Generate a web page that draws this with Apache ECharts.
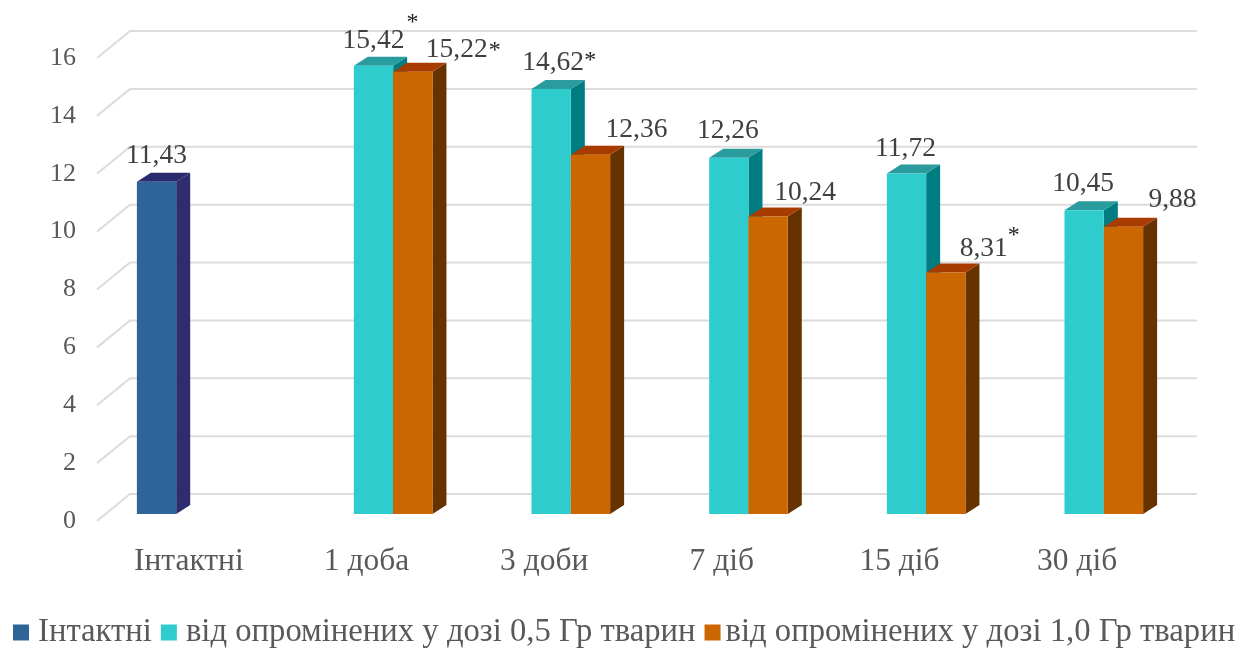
<!DOCTYPE html>
<html>
<head>
<meta charset="utf-8">
<script src="https://cdn.jsdelivr.net/npm/echarts@6/dist/echarts.min.js"></script>
<style>html,body{margin:0;padding:0;background:#fff}#c{width:1243px;height:650px}</style>
</head>
<body>
<div id="c"></div>
<script>
const categories = ['Інтактні', '1 доба', '3 доби', '7 діб', '15 діб', '30 діб'];
const intact = [11.43, null, null, null, null, null];
const dose05 = [null, 15.42, 14.62, 12.26, 11.72, 10.45];
const dose10 = [null, 15.22, 12.36, 10.24, 8.31, 9.88];
const yTicks = [0, 2, 4, 6, 8, 10, 12, 14, 16];

const SERIF = '"Liberation Serif", "Times New Roman", serif';

// Extruded bar faces per series
const faces = {
  intact: { front: '#2f6498', side: '#2e2d70', top: '#2b2a6e', slot: 0 },
  dose05: { front: '#2fcccd', side: '#007d83', top: '#2a9c9e', slot: 1 },
  dose10: { front: '#cc6600', side: '#663300', top: '#a83c00', slot: 2 }
};
const DEPTH_X = 14, DEPTH_Y = -9;
const SLOT_SHARE = 0.2212;

// Label placement relative to the bar's front top edge: [dx, dy], star [dx, dy] from label centre
const labelPlace = {
  'intact:0': { at: [0, -26] },
  'dose05:1': { at: [0, -25], star: [39, -18] },
  'dose10:1': { at: [44, -22], star: [38, 1] },
  'dose05:2': { at: [2, -26], star: [37, -2] },
  'dose10:2': { at: [46, -25] },
  'dose05:3': { at: [-1, -27] },
  'dose10:3': { at: [37, -24] },
  'dose05:4': { at: [-1, -25] },
  'dose10:4': { at: [38, -24], star: [30, -13] },
  'dose05:5': { at: [-1, -27] },
  'dose10:5': { at: [49, -27] }
};

function barSeries(name, key, values) {
  const f = faces[key];
  return {
    type: 'custom',
    name: name,
    xAxisIndex: 0,
    yAxisIndex: 0,
    itemStyle: { color: f.front },
    encode: { x: 0, y: 1 },
    data: values.map((v, i) => [i, v]).filter(d => d[1] !== null),
    renderItem(params, api) {
      const idx = api.value(0), val = api.value(1);
      const top = api.coord([idx, val]);
      const base = api.coord([idx, 0]);
      const w = api.size([1, 0])[0] * SLOT_SHARE;
      const x0 = top[0] - w * 1.5 + f.slot * w;
      const x1 = x0 + w;
      const children = [
        { type: 'polygon', shape: { points: [[x1, top[1]], [x1 + DEPTH_X, top[1] + DEPTH_Y], [x1 + DEPTH_X, base[1] + DEPTH_Y], [x1, base[1]]] }, style: { fill: f.side } },
        { type: 'polygon', shape: { points: [[x0, top[1]], [x0 + DEPTH_X, top[1] + DEPTH_Y], [x1 + DEPTH_X, top[1] + DEPTH_Y], [x1, top[1]]] }, style: { fill: f.top } },
        { type: 'rect', shape: { x: x0, y: top[1], width: w, height: base[1] - top[1] }, style: { fill: f.front } }
      ];
      const place = labelPlace[key + ':' + idx];
      const lx = (x0 + x1) / 2 + place.at[0], ly = top[1] + place.at[1];
      children.push({
        type: 'text', z2: 10,
        style: { x: lx, y: ly, text: val.toFixed(2).replace('.', ','), fill: '#404040', font: '27.5px ' + SERIF, align: 'center', verticalAlign: 'middle' }
      });
      if (place.star) {
        children.push({
          type: 'text', z2: 10,
          style: { x: lx + place.star[0], y: ly + place.star[1], text: '*', fill: '#222', font: '24px ' + SERIF, align: 'center', verticalAlign: 'middle' }
        });
      }
      return { type: 'group', children };
    }
  };
}

// Floor-to-wall gridlines: a slanted run from the front edge, then along the back wall
const gridSeries = {
  type: 'custom',
  xAxisIndex: 1,
  yAxisIndex: 1,
  silent: true,
  encode: { x: 0, y: 1 },
  data: yTicks.map(v => [0, v]),
  renderItem(params, api) {
    const y = api.coord([0, api.value(1)])[1];
    const cs = params.coordSys;
    const fx = cs.x - 3, bx = cs.x + 30, by = y - 27;
    return {
      type: 'polyline',
      shape: { points: [[fx, y], [bx, by], [bx + cs.width + 1, by]] },
      style: { stroke: '#dcdcdc', lineWidth: 2, fill: 'none' }
    };
  }
};

const chart = echarts.init(document.getElementById('c'), null, { renderer: 'canvas' });
chart.setOption({
  animation: false,
  backgroundColor: '#ffffff',
  grid: [
    { left: 107, width: 1066, top: 49, height: 465 },
    { left: 100, width: 1066, top: 58, height: 463 }
  ],
  xAxis: [
    { type: 'category', gridIndex: 0, data: categories, show: false },
    {
      type: 'category', gridIndex: 1, data: categories,
      axisLine: { show: false }, axisTick: { show: false },
      axisLabel: { color: '#595959', fontFamily: SERIF, fontSize: 31.5, margin: 25 }
    }
  ],
  yAxis: [
    { type: 'value', gridIndex: 0, min: 0, max: 16, interval: 2, show: false },
    {
      type: 'value', gridIndex: 1, min: 0, max: 16, interval: 2,
      axisLine: { show: false }, axisTick: { show: false }, splitLine: { show: false },
      axisLabel: { color: '#595959', fontFamily: SERIF, fontSize: 26, margin: 24, padding: [4, 0, 0, 0] }
    }
  ],
  legend: {
    data: [
      'Інтактні',
      'від опромінених у дозі 0,5 Гр тварин',
      { name: 'від опромінених у дозі 1,0 Гр тварин', textStyle: { padding: [4, 0, 0, 0] } }
    ],
    left: 13,
    top: 616,
    width: 1229,
    padding: 0,
    icon: 'rect',
    itemWidth: 16,
    itemHeight: 16,
    itemGap: 9,
    textStyle: { color: '#595959', fontFamily: SERIF, fontSize: 32.7, padding: [4, 0, 0, 4] }
  },
  series: [
    gridSeries,
    barSeries('Інтактні', 'intact', intact),
    barSeries('від опромінених у дозі 0,5 Гр тварин', 'dose05', dose05),
    barSeries('від опромінених у дозі 1,0 Гр тварин', 'dose10', dose10)
  ]
});
</script>
</body>
</html>
